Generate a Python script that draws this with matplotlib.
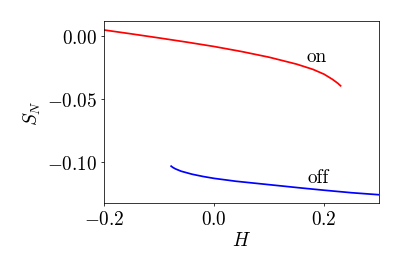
import matplotlib
matplotlib.use('Agg')
import matplotlib.pyplot as plt
from matplotlib.ticker import FuncFormatter

plt.rcParams['mathtext.fontset'] = 'cm'
plt.rcParams['font.family'] = 'serif'
plt.rcParams['font.serif'] = ['cmr10', 'DejaVu Serif']
plt.rcParams['axes.unicode_minus'] = True

# "on" branch (red)
h_on = [-0.2, -0.15, -0.1, -0.05, 0.0, 0.05, 0.1, 0.15, 0.18, 0.2, 0.215, 0.225, 0.23]
s_on = [0.0051, 0.0020, -0.0012, -0.0045, -0.0080, -0.0120, -0.0165, -0.0220,
        -0.0262, -0.0300, -0.0340, -0.0372, -0.0392]

# "off" branch (blue)
h_off = [-0.078, -0.075, -0.07, -0.06, -0.04, -0.02, 0.0, 0.04, 0.08, 0.12, 0.16, 0.2, 0.25, 0.3]
s_off = [-0.1030, -0.1040, -0.1052, -0.1070, -0.1094, -0.1112, -0.1127, -0.1150,
         -0.1168, -0.1186, -0.1204, -0.1221, -0.1241, -0.1257]

x_ticks = [-0.2, 0.0, 0.2]
y_ticks = [0.0, -0.05, -0.10]

fig = plt.figure(figsize=(6, 4), dpi=69.2)
ax = fig.add_axes([0.2506, 0.2635, 0.6624, 0.6571])

ax.plot(h_on, s_on, color='r', linewidth=1.8)
ax.plot(h_off, s_off, color='b', linewidth=1.8)

ax.text(0.186, -0.0159, 'on', fontsize=20, ha='center', va='center')
ax.text(0.189, -0.1119, 'off', fontsize=20, ha='center', va='center')

ax.set_xlim(-0.2, 0.3)
ax.set_ylim(-0.1323, 0.0121)
ax.set_xticks(x_ticks)
ax.set_yticks(y_ticks)
ax.xaxis.set_major_formatter(FuncFormatter(lambda v, p: r'$%.1f$' % v))
ax.yaxis.set_major_formatter(FuncFormatter(lambda v, p: r'$%.2f$' % v))
ax.tick_params(labelsize=20)

ax.set_xlabel(r'$H$', fontsize=20)
ax.set_ylabel(r'$S_N$', fontsize=20)

fig.savefig('out.png', dpi=69.2)
